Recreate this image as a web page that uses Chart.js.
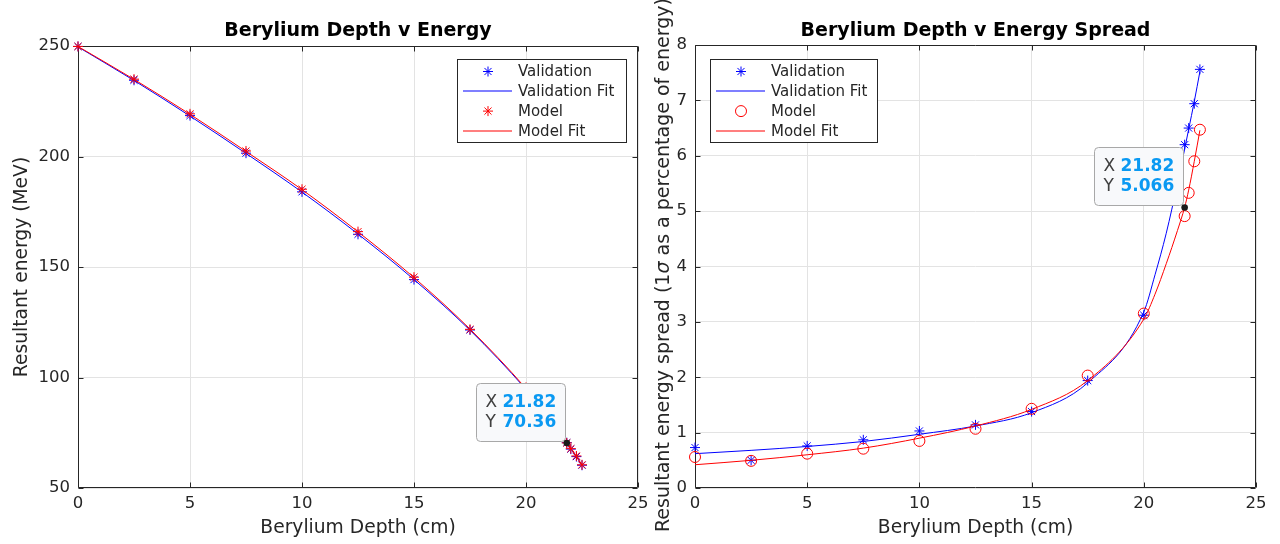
<!DOCTYPE html>
<html>
<head>
<meta charset="utf-8">
<script src="https://cdn.jsdelivr.net/npm/chart.js@4.4.0/dist/chart.umd.min.js"></script>
<style>
html,body{margin:0;padding:0;background:#fff;width:1280px;height:544px;overflow:hidden}
#c1{position:absolute;left:0;top:0}
#c2{position:absolute;left:640px;top:0}
</style>
</head>
<body>
<canvas id="c1" width="660" height="544"></canvas>
<canvas id="c2" width="640" height="544"></canvas>
<script>
// ---------- data ----------
const depth = [0, 2.5, 5, 7.5, 10, 12.5, 15, 17.5, 20, 21.82, 22, 22.25, 22.5];
const energyValidation = [249.8, 234.5, 218.5, 201.5, 184.0, 164.8, 144.3, 121.5, 95.0, 70.5, 67.6, 64.2, 60.3];
const energyModel      = [249.8, 235.0, 219.3, 202.5, 185.2, 166.0, 145.4, 121.8, 95.5, 70.4, 67.8, 64.5, 60.5];
const fitDepth = [0, 2.5, 5, 7.5, 10, 12.5, 15, 17.5, 20, 20.5, 21, 21.5, 21.82, 22, 22.25, 22.5];
const energyValidationFit = [249.6, 234.4, 218.3, 201.4, 183.9, 164.9, 144.3, 121.4, 94.6, 88.4, 81.8, 75.0, 70.5, 67.8, 64.1, 60.3];
const energyModelFit      = [249.8, 234.9, 219.1, 202.3, 185.0, 165.9, 145.2, 121.9, 95.0, 88.7, 82.1, 75.2, 70.6, 68.0, 64.3, 60.5];
const spreadValidation = [0.73, 0.50, 0.76, 0.87, 1.03, 1.14, 1.38, 1.94, 3.12, 6.20, 6.50, 6.94, 7.56];
const spreadModel      = [0.56, 0.49, 0.62, 0.71, 0.85, 1.07, 1.43, 2.03, 3.15, 4.91, 5.33, 5.90, 6.47];
const spreadValidationFit = [0.62, 0.68, 0.75, 0.84, 0.97, 1.12, 1.36, 1.90, 3.18, 3.85, 4.60, 5.50, 6.12, 6.48, 6.98, 7.52];
const spreadModelFit      = [0.42, 0.50, 0.60, 0.72, 0.90, 1.12, 1.42, 1.94, 3.05, 3.50, 4.05, 4.65, 5.07, 5.38, 5.90, 6.46];
const xTicks = [0, 5, 10, 15, 20, 25];
const energyTicks = [50, 100, 150, 200, 250];
const spreadTicks = [0, 1, 2, 3, 4, 5, 6, 7, 8];
const tipDepth = 21.82;
const tipEnergy = 70.36;
const tipSpread = 5.066;
const seriesLabels = ['Validation', 'Validation Fit', 'Model', 'Model Fit'];

// ---------- styling ----------
const FONT = "'DejaVu Sans', sans-serif";
const AXIS = '#262626';
const GRID = '#e3e3e3';
const BLUE = '#0000ff';
const RED = '#ff0000';
const seriesColors = [BLUE, BLUE, RED, RED];
Chart.defaults.font.family = FONT;
Chart.defaults.color = AXIS;

function pts(xs, ys) { return xs.map((x, i) => ({ x: x, y: ys[i] })); }

function drawMarker(ctx, style, color, r, x, y) {
  ctx.save();
  ctx.strokeStyle = color; ctx.lineWidth = 1;
  ctx.beginPath();
  if (style === 'circle') {
    ctx.arc(x, y, r, 0, Math.PI * 2);
  } else {
    ctx.moveTo(x - r, y); ctx.lineTo(x + r, y);
    ctx.moveTo(x, y - r); ctx.lineTo(x, y + r);
    const d = r * Math.SQRT1_2;
    ctx.moveTo(x - d, y - d); ctx.lineTo(x + d, y + d);
    ctx.moveTo(x - d, y + d); ctx.lineTo(x + d, y - d);
  }
  ctx.stroke();
  ctx.restore();
}

const framePlugin = {
  id: 'frame',
  beforeDatasetsDraw(chart) {
    const { ctx, chartArea, scales } = chart;
    const L = Math.round(chartArea.left) + 0.5, R = Math.round(chartArea.right) - 0.5;
    const T = Math.round(chartArea.top) + 0.5, B = Math.round(chartArea.bottom) - 0.5;
    const tl = 5;
    ctx.save();
    ctx.strokeStyle = AXIS; ctx.lineWidth = 1;
    ctx.beginPath();
    ctx.rect(L, T, R - L, B - T);
    scales.x.ticks.forEach(t => {
      const px = Math.round(scales.x.getPixelForValue(t.value)) + 0.5;
      ctx.moveTo(px, B); ctx.lineTo(px, B - tl);
      ctx.moveTo(px, T); ctx.lineTo(px, T + tl);
    });
    scales.y.ticks.forEach(t => {
      const py = Math.round(scales.y.getPixelForValue(t.value)) + 0.5;
      ctx.moveTo(L, py); ctx.lineTo(L + tl, py);
      ctx.moveTo(R, py); ctx.lineTo(R - tl, py);
    });
    ctx.stroke();
    ctx.restore();
  }
};

const legendPlugin = {
  id: 'boxLegend',
  afterDraw(chart, args, o) {
    const { ctx, chartArea } = chart;
    const bx = Math.round(o.anchor === 'right' ? chartArea.right - o.dx - o.width : chartArea.left + o.dx);
    const by = Math.round(chartArea.top + o.dy);
    ctx.save();
    ctx.fillStyle = '#fff';
    ctx.fillRect(bx, by, o.width, o.height);
    ctx.strokeStyle = AXIS; ctx.lineWidth = 1;
    ctx.strokeRect(bx + 0.5, by + 0.5, o.width, o.height);
    ctx.font = '15px ' + FONT;
    ctx.textBaseline = 'middle';
    chart.data.datasets.forEach((ds, i) => {
      const cy = by + 12.5 + i * 19.8;
      const col = seriesColors[i];
      if (ds.showLine) {
        ctx.beginPath();
        ctx.strokeStyle = col; ctx.lineWidth = 1.2;
        ctx.moveTo(bx + 6, Math.round(cy)); ctx.lineTo(bx + 55, Math.round(cy));
        ctx.stroke();
      } else {
        drawMarker(ctx, ds.pointStyle, col, ds.pointRadius, bx + 31, cy);
      }
      ctx.fillStyle = AXIS;
      ctx.fillText(ds.label, bx + 61, cy + 1);
    });
    ctx.restore();
  }
};

function roundRect(ctx, x, y, w, h, r) {
  ctx.beginPath();
  ctx.moveTo(x + r, y); ctx.lineTo(x + w - r, y); ctx.quadraticCurveTo(x + w, y, x + w, y + r);
  ctx.lineTo(x + w, y + h - r); ctx.quadraticCurveTo(x + w, y + h, x + w - r, y + h);
  ctx.lineTo(x + r, y + h); ctx.quadraticCurveTo(x, y + h, x, y + h - r);
  ctx.lineTo(x, y + r); ctx.quadraticCurveTo(x, y, x + r, y);
  ctx.closePath();
}

const tipPlugin = {
  id: 'datatip',
  afterDraw(chart, args, o) {
    const { ctx, scales } = chart;
    const px = scales.x.getPixelForValue(o.x), py = scales.y.getPixelForValue(o.y);
    const w = 89, h = 58;
    const x0 = Math.round(px - 1.5 - w) + 0.5, y0 = Math.round(py - 2 - h) + 0.5;
    ctx.save();
    roundRect(ctx, x0, y0, w, h, 4);
    ctx.fillStyle = '#f8f9fb'; ctx.fill();
    ctx.strokeStyle = '#a8a8a8'; ctx.lineWidth = 1; ctx.stroke();
    ctx.textBaseline = 'middle';
    ctx.font = '17px ' + FONT; ctx.fillStyle = '#404040';
    ctx.fillText('X', x0 + 9, y0 + 19.5);
    ctx.fillText('Y', x0 + 9, y0 + 39.5);
    ctx.font = 'bold 17px ' + FONT; ctx.fillStyle = '#0a99f2';
    ctx.fillText(o.x.toFixed(2), x0 + 26, y0 + 19.5);
    ctx.fillText(String(o.y), x0 + 26, y0 + 39.5);
    ctx.beginPath(); ctx.arc(px, py, 3.3, 0, Math.PI * 2);
    ctx.fillStyle = '#1a1a1a'; ctx.fill();
    ctx.restore();
  }
};

const yTitlePlugin = {
  id: 'yTitle',
  afterDraw(chart, args, o) {
    if (!o.parts) return;
    const ctx = chart.ctx;
    ctx.save();
    ctx.translate(o.x, o.y);
    ctx.rotate(-Math.PI / 2);
    ctx.textBaseline = 'middle';
    ctx.fillStyle = AXIS;
    let cx = 0;
    o.parts.forEach(p => {
      ctx.font = (p.italic ? 'italic ' : '') + '19px ' + FONT;
      ctx.fillText(p.text, cx, 0);
      cx += ctx.measureText(p.text).width;
    });
    ctx.restore();
  }
};

function makeDatasets(valY, valFitY, modY, modFitY, modelStyle) {
  return [
    { label: seriesLabels[0], data: pts(depth, valY), showLine: false, pointStyle: 'star', pointRadius: 5, borderColor: seriesColors[0], backgroundColor: seriesColors[0], pointBorderWidth: 1, order: 4, clip: false },
    { label: seriesLabels[1], data: pts(fitDepth, valFitY), showLine: true, pointRadius: 0, borderColor: seriesColors[1], borderWidth: 1, cubicInterpolationMode: 'monotone', order: 3, clip: false },
    { label: seriesLabels[2], data: pts(depth, modY), showLine: false, pointStyle: modelStyle, pointRadius: modelStyle === 'circle' ? 5.5 : 5, borderColor: seriesColors[2], backgroundColor: 'rgba(0,0,0,0)', pointBorderWidth: 1, order: 2, clip: false },
    { label: seriesLabels[3], data: pts(fitDepth, modFitY), showLine: true, pointRadius: 0, borderColor: seriesColors[3], borderWidth: 1, cubicInterpolationMode: 'monotone', order: 1, clip: false }
  ];
}

function makeOptions(cfg) {
  return {
    responsive: false, animation: false, devicePixelRatio: 1,
    events: [],
    layout: { padding: { left: 0, right: cfg.padRight, top: 0, bottom: 0 } },
    plugins: {
      legend: { display: false },
      tooltip: { enabled: false },
      title: { display: true, text: cfg.title, fullSize: false, color: '#000', font: { size: 19, weight: 'bold' }, padding: { top: 19.6, bottom: cfg.titleBottom } },
      boxLegend: cfg.legend,
      datatip: { x: tipDepth, y: cfg.tipY },
      yTitle: cfg.yTitleParts ? { parts: cfg.yTitleParts, x: 24, y: 532 } : {}
    },
    scales: {
      x: {
        type: 'linear', min: xTicks[0], max: xTicks[xTicks.length - 1],
        afterBuildTicks: s => { s.ticks = xTicks.map(v => ({ value: v })); },
        afterFit: s => { s.height = 56; s.paddingLeft = 0; s.paddingRight = 0; },
        grid: { color: GRID, drawTicks: false, lineWidth: 1 },
        border: { display: false },
        ticks: { padding: 6, font: { size: 16.5 }, color: AXIS },
        title: { display: true, text: 'Berylium Depth (cm)', color: AXIS, font: { size: 18.7 }, padding: { top: 0, bottom: 5 } }
      },
      y: {
        type: 'linear', min: cfg.yTicks[0], max: cfg.yTicks[cfg.yTicks.length - 1],
        afterBuildTicks: s => { s.ticks = cfg.yTicks.map(v => ({ value: v })); },
        afterFit: s => { s.width = cfg.yWidth; s.paddingTop = 0; s.paddingBottom = 0; },
        grid: { color: GRID, drawTicks: false, lineWidth: 1 },
        border: { display: false },
        ticks: { padding: 8, font: { size: 16.5 }, color: AXIS },
        title: cfg.yTitle ? { display: true, text: cfg.yTitle, color: AXIS, font: { size: 18.7 }, padding: { top: 11, bottom: 0 } } : { display: false }
      }
    }
  };
}

new Chart(document.getElementById('c1'), {
  type: 'line',
  data: { datasets: makeDatasets(energyValidation, energyValidationFit, energyModel, energyModelFit, 'star') },
  options: makeOptions({
    title: 'Berylium Depth v Energy', padRight: 22, titleBottom: 3.6, yWidth: 78, yTicks: energyTicks,
    yTitle: 'Resultant energy (MeV)', tipY: tipEnergy,
    legend: { anchor: 'right', dx: 12.5, dy: 13, width: 169, height: 83 }
  }),
  plugins: [framePlugin, legendPlugin, tipPlugin, yTitlePlugin]
});

new Chart(document.getElementById('c2'), {
  type: 'line',
  data: { datasets: makeDatasets(spreadValidation, spreadValidationFit, spreadModel, spreadModelFit, 'circle') },
  options: makeOptions({
    title: 'Berylium Depth v Energy Spread', padRight: 24, titleBottom: 2.6, yWidth: 55, yTicks: spreadTicks,
    yTitle: null, tipY: tipSpread,
    yTitleParts: [{ text: 'Resultant energy spread (1' }, { text: 'σ', italic: true }, { text: ' as a percentage of energy)' }],
    legend: { anchor: 'left', dx: 15, dy: 14, width: 167, height: 83 }
  }),
  plugins: [framePlugin, legendPlugin, tipPlugin, yTitlePlugin]
});
</script>
</body>
</html>
